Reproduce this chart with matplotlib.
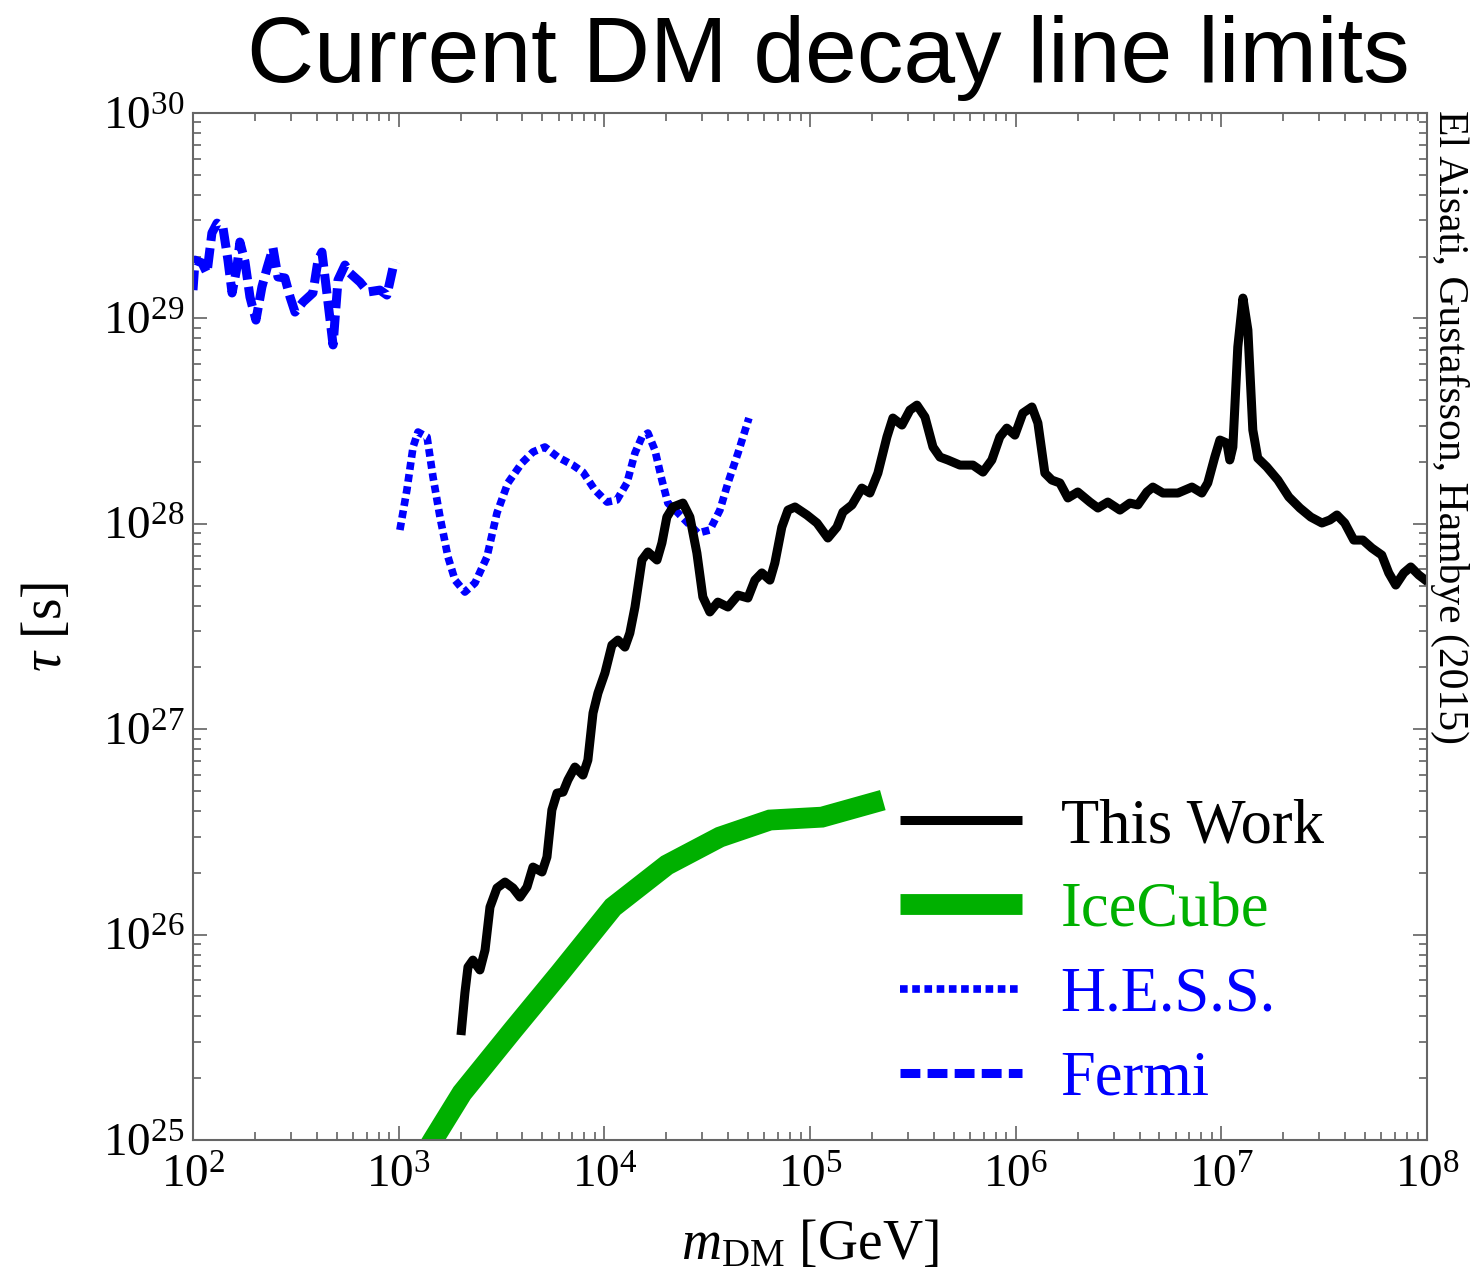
import numpy as np
import matplotlib
matplotlib.use('Agg')
from matplotlib import pyplot as plt
from matplotlib.ticker import LogLocator, LogFormatterMathtext, NullFormatter

plt.rcParams['font.family'] = ['Liberation Serif', 'DejaVu Serif']
plt.rcParams['mathtext.fontset'] = 'custom'
plt.rcParams['mathtext.rm'] = 'Liberation Serif'
plt.rcParams['mathtext.it'] = 'Liberation Serif:italic'
plt.rcParams['mathtext.bf'] = 'Liberation Serif:bold'

# limits as log10(m_DM / GeV), log10(tau / s)
this_work_logm = [3.303, 3.322, 3.337, 3.361, 3.395, 3.420, 3.444, 3.478, 3.517, 3.556,
                  3.590, 3.624, 3.653, 3.697, 3.721, 3.745, 3.770, 3.799, 3.823, 3.857,
                  3.896, 3.920, 3.945, 3.969, 4.003, 4.037, 4.066, 4.100, 4.124, 4.149,
                  4.183, 4.212, 4.256, 4.280, 4.304, 4.334, 4.382, 4.416, 4.450, 4.479,
                  4.513, 4.552, 4.601, 4.650, 4.698, 4.732, 4.766, 4.805, 4.829, 4.863,
                  4.893, 4.927, 4.985, 5.034, 5.087, 5.131, 5.160, 5.204, 5.252, 5.291,
                  5.330, 5.374, 5.403, 5.447, 5.486, 5.520, 5.559, 5.598, 5.632, 5.670,
                  5.729, 5.792, 5.841, 5.884, 5.923, 5.957, 5.996, 6.035, 6.079, 6.108,
                  6.142, 6.176, 6.215, 6.254, 6.302, 6.361, 6.400, 6.448, 6.507, 6.555,
                  6.594, 6.638, 6.667, 6.716, 6.789, 6.857, 6.905, 6.934, 6.968, 6.993,
                  7.027, 7.041, 7.056, 7.080, 7.105, 7.129, 7.153, 7.177, 7.221, 7.275,
                  7.328, 7.382, 7.435, 7.489, 7.528, 7.562, 7.600, 7.644, 7.688, 7.732,
                  7.780, 7.814, 7.848, 7.887, 7.921, 7.960, 8.004]
this_work_logtau = [25.511, 25.716, 25.842, 25.876, 25.828, 25.925, 26.134, 26.227, 26.256, 26.227,
                    26.183, 26.232, 26.329, 26.305, 26.378, 26.607, 26.689, 26.694, 26.753, 26.816,
                    26.777, 26.850, 27.079, 27.176, 27.274, 27.410, 27.434, 27.400, 27.468, 27.595,
                    27.824, 27.863, 27.824, 27.907, 28.033, 28.082, 28.101, 28.033, 27.858, 27.644,
                    27.571, 27.619, 27.595, 27.653, 27.639, 27.726, 27.761, 27.726, 27.809, 27.984,
                    28.067, 28.082, 28.043, 28.004, 27.931, 27.984, 28.057, 28.092, 28.174, 28.150,
                    28.247, 28.423, 28.515, 28.481, 28.554, 28.578, 28.520, 28.374, 28.325, 28.311,
                    28.286, 28.286, 28.252, 28.311, 28.423, 28.466, 28.432, 28.539, 28.569, 28.491,
                    28.247, 28.213, 28.199, 28.126, 28.155, 28.106, 28.077, 28.106, 28.067, 28.101,
                    28.092, 28.155, 28.179, 28.150, 28.150, 28.179, 28.150, 28.199, 28.325, 28.408,
                    28.393, 28.311, 28.374, 28.861, 29.099, 28.944, 28.457, 28.320, 28.277, 28.213,
                    28.131, 28.077, 28.033, 28.004, 28.019, 28.043, 28.004, 27.921, 27.921, 27.882,
                    27.848, 27.761, 27.702, 27.761, 27.790, 27.751, 27.717]

icecube_logm = [3.094, 3.167, 3.308, 3.556, 3.784, 4.042, 4.304, 4.562, 4.805, 5.058, 5.354]
icecube_logtau = [24.878, 25.000, 25.229, 25.536, 25.813, 26.134, 26.339, 26.475, 26.558, 26.572, 26.655]

hess_logm = [3.006, 3.040, 3.070, 3.094, 3.138, 3.167, 3.201, 3.240, 3.274, 3.322,
             3.371, 3.429, 3.478, 3.531, 3.599, 3.653, 3.711, 3.774, 3.847, 3.896,
             3.954, 4.013, 4.061, 4.110, 4.149, 4.183, 4.212, 4.246, 4.280, 4.309,
             4.358, 4.406, 4.455, 4.513, 4.562, 4.601, 4.650, 4.703]
hess_logtau = [27.970, 28.165, 28.374, 28.447, 28.423, 28.228, 28.033, 27.838, 27.726, 27.668,
               27.712, 27.838, 28.053, 28.199, 28.296, 28.350, 28.374, 28.325, 28.286, 28.252,
               28.165, 28.106, 28.116, 28.199, 28.345, 28.423, 28.442, 28.359, 28.213, 28.101,
               28.053, 28.004, 27.955, 27.970, 28.067, 28.199, 28.345, 28.515]

fermi_logm = [2.000, 2.010, 2.044, 2.068, 2.092, 2.117, 2.146, 2.170, 2.190, 2.214,
              2.228, 2.253, 2.277, 2.306, 2.335, 2.360, 2.389, 2.413, 2.447, 2.472,
              2.496, 2.535, 2.583, 2.608, 2.627, 2.651, 2.681, 2.705, 2.739, 2.763,
              2.812, 2.851, 2.909, 2.943, 2.972, 2.987]
fermi_logtau = [29.138, 29.284, 29.270, 29.221, 29.416, 29.464, 29.440, 29.284, 29.124, 29.250,
                29.372, 29.275, 29.104, 28.992, 29.153, 29.245, 29.343, 29.202, 29.197, 29.104,
                29.031, 29.080, 29.124, 29.284, 29.323, 29.124, 28.871, 29.187, 29.260, 29.221,
                29.177, 29.129, 29.138, 29.114, 29.245, 29.275]

labels = ['This Work', 'IceCube', 'H.E.S.S.', 'Fermi']
colors = ['black', '#00b000', 'blue', 'blue']

fig = plt.figure(figsize=(14.8, 12.86), dpi=100)
ax = fig.add_axes([0.1304, 0.1135, 0.8338, 0.7986])

fermi, = ax.plot(10**np.array(fermi_logm), 10**np.array(fermi_logtau), color=colors[3], lw=6.5,
                 linestyle=(0, (2.2, 0.8)), dash_capstyle='butt', label=labels[3])
hess, = ax.plot(10**np.array(hess_logm), 10**np.array(hess_logtau), color=colors[2], lw=5.5,
                linestyle=(0, (1.0, 0.6)), dash_capstyle='butt', label=labels[2])
ice, = ax.plot(10**np.array(icecube_logm), 10**np.array(icecube_logtau), color=colors[1], lw=15,
               solid_capstyle='butt', solid_joinstyle='miter', label=labels[1])
tw, = ax.plot(10**np.array(this_work_logm), 10**np.array(this_work_logtau), color=colors[0], lw=6.5,
              solid_capstyle='butt', solid_joinstyle='round', label=labels[0])

ax.set_xscale('log')
ax.set_yscale('log')
ax.set_xlim(1e2, 1e8)
ax.set_ylim(1e25, 1e30)
for axis in (ax.xaxis, ax.yaxis):
    axis.set_major_locator(LogLocator(base=10, numticks=20))
    axis.set_minor_locator(LogLocator(base=10, subs=np.arange(2, 10), numticks=20))
    axis.set_major_formatter(LogFormatterMathtext())
    axis.set_minor_formatter(NullFormatter())

ax.tick_params(which='both', direction='in', top=True, right=True, color='#555555', width=1.1)
ax.tick_params(which='major', length=10)
ax.tick_params(which='minor', length=6)
ax.tick_params(axis='x', labelsize=34, pad=11)
ax.tick_params(axis='y', labelsize=34, pad=6)
for s in ax.spines.values():
    s.set_color('#666666')
    s.set_linewidth(1.5)

ax.set_xlabel(r'$m_{\rm DM}$ [GeV]', fontsize=40, va='center')
ax.xaxis.set_label_coords(0.5, -0.102)
ax.set_ylabel(r'$\tau$ [s]', fontsize=40, va='center')
ax.yaxis.set_label_coords(-0.118, 0.5)

leg = ax.legend(handles=[tw, ice, hess, fermi], loc='upper left', bbox_to_anchor=(0.573, 0.333),
                frameon=False, fontsize=45, handlelength=1.95, handletextpad=0.62,
                labelspacing=0.42, borderpad=0, borderaxespad=0)
for t, c in zip(leg.get_texts(), colors):
    t.set_color(c)

fig.text(828 / 1480, 1 - 82 / 1286, 'Current DM decay line limits', family='Liberation Sans',
         fontsize=67, ha='center', va='baseline')
fig.text(1450 / 1480, 1 - 110 / 1286, 'El Aisati, Gustafsson, Hambye (2015)', fontsize=30,
         rotation=-90, ha='center', va='top')

fig.savefig('out.png', dpi=100)
